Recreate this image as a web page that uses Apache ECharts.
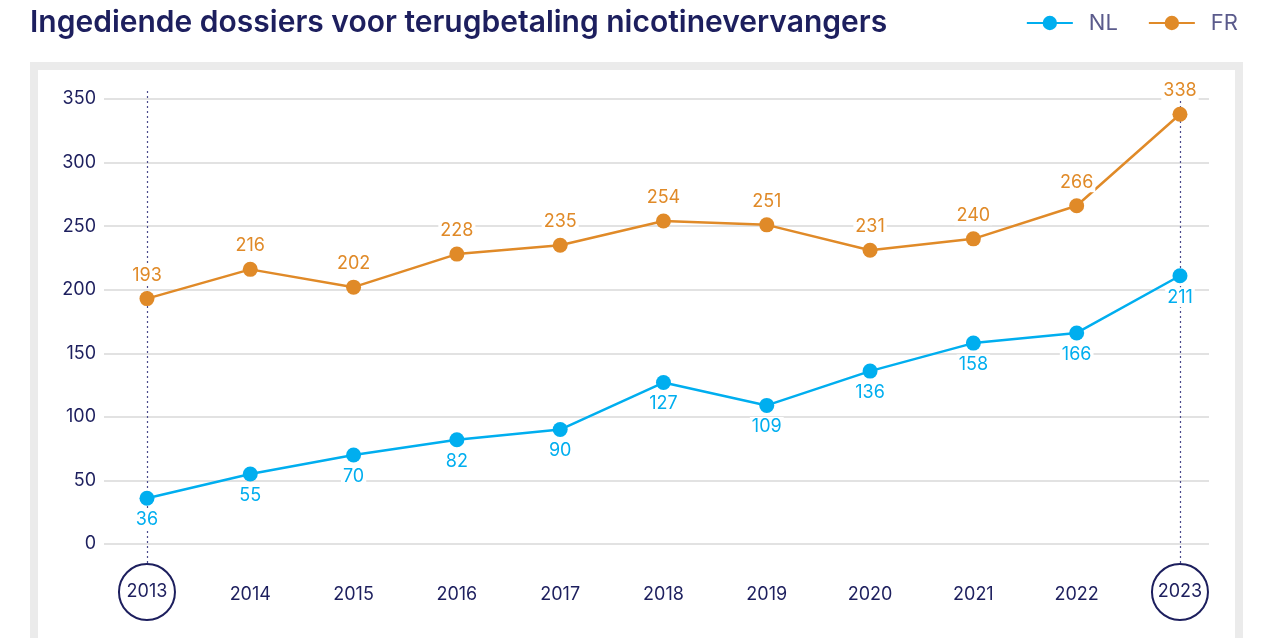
<!DOCTYPE html>
<html>
<head>
<meta charset="utf-8">
<script src="https://cdn.jsdelivr.net/npm/echarts@6/dist/echarts.min.js"></script>
<style>
  html, body { margin: 0; padding: 0; background: #fff; }
  #main { width: 1271px; height: 638px; }
</style>
</head>
<body>
<div id="main"></div>
<script>
// data
var years = [2013, 2014, 2015, 2016, 2017, 2018, 2019, 2020, 2021, 2022, 2023];
var nlValues = [36, 55, 70, 82, 90, 127, 109, 136, 158, 166, 211];
var frValues = [193, 216, 202, 228, 235, 254, 251, 231, 240, 266, 338];
var circledYears = [2013, 2023];

var navy = '#1d1f5e';
var font = 'Inter';
var xMin = 2012.584, xMax = 2023.281;

function pairs(vals) {
  return years.map(function (y, i) { return [y, vals[i]]; });
}

var chart = echarts.init(document.getElementById('main'));
chart.setOption({
  animation: false,
  textStyle: { fontFamily: font },
  title: {
    text: 'Ingediende dossiers voor terugbetaling nicotinevervangers',
    left: 25, top: 3,
    textStyle: { fontFamily: font, fontSize: 30, fontWeight: 600, color: navy }
  },
  legend: {
    right: 28, top: 7,
    itemWidth: 46, itemHeight: 18, itemGap: 30,
    textStyle: { fontFamily: font, fontSize: 22, color: '#5b5b8c', padding: [0, 0, 0, 11] },
    data: ['NL', 'FR']
  },
  graphic: [{
    type: 'rect',
    shape: { x: 34, y: 66, width: 1205, height: 700 },
    style: { fill: 'none', stroke: '#ebebeb', lineWidth: 8 },
    silent: true, z: -1
  }],
  grid: [
    { left: 104, right: 62, top: 99, bottom: 94 },
    // taller grid only for the dotted guide lines
    { left: 104, right: 62, top: 91, bottom: 75 }
  ],
  xAxis: [{
    type: 'value',
    min: xMin, max: xMax,
    axisLine: { show: false },
    axisTick: { show: false },
    splitLine: { show: false },
    axisLabel: {
      customValues: years,
      margin: 20,
      formatter: function (v) {
        return circledYears.indexOf(v) >= 0 ? '{c|' + v + '}' : '{n|' + v + '}';
      },
      rich: {
        c: {
          fontFamily: font, fontSize: 18, color: navy,
          width: 56, height: 56, lineHeight: 56, align: 'center',
          borderColor: navy, borderWidth: 2, borderRadius: 30
        },
        n: {
          fontFamily: font, fontSize: 18, color: navy,
          height: 62, lineHeight: 62, align: 'center'
        }
      }
    }
  }, {
    type: 'value', gridIndex: 1,
    min: xMin, max: xMax, show: false
  }],
  yAxis: [{
    type: 'value',
    min: 0, max: 350, interval: 50,
    axisLine: { show: false },
    axisTick: { show: false },
    axisLabel: { fontFamily: font, fontSize: 18, color: navy, margin: 8 },
    splitLine: { lineStyle: { color: '#d9d9d9', width: 1.5 } }
  }, {
    type: 'value', gridIndex: 1, min: 0, max: 1, show: false
  }],
  series: [{
    name: 'guides',
    type: 'line',
    xAxisIndex: 1, yAxisIndex: 1,
    data: [],
    z: 1,
    markLine: {
      silent: true, symbol: 'none', z: 1,
      label: { show: false },
      lineStyle: { color: '#4a4a8c', type: [2, 3], width: 1.2 },
      data: circledYears.map(function (y) { return { xAxis: y }; })
    }
  }, {
    name: 'NL',
    type: 'line',
    data: pairs(nlValues),
    color: '#00aeef',
    symbol: 'circle', symbolSize: 15,
    lineStyle: { width: 2.5 },
    z: 3,
    label: {
      show: true, position: 'bottom', distance: 4,
      fontFamily: font, fontSize: 18, color: '#00aeef',
      backgroundColor: '#fff', padding: [1, 2]
    }
  }, {
    name: 'FR',
    type: 'line',
    data: pairs(frValues),
    color: '#e08a28',
    symbol: 'circle', symbolSize: 15,
    lineStyle: { width: 2.5 },
    z: 3,
    label: {
      show: true, position: 'top', distance: 6,
      fontFamily: font, fontSize: 18, color: '#e08a28',
      backgroundColor: '#fff', padding: [1, 2]
    }
  }]
});
</script>
</body>
</html>
